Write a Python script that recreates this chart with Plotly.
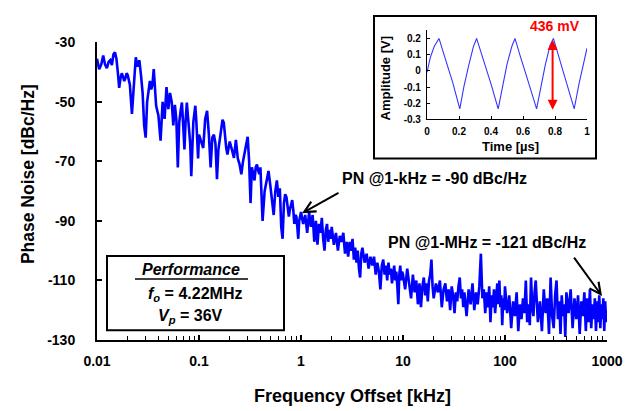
import plotly.graph_objects as go

# ---------------- data ----------------
# frequency grid inside each decade (mantissas) and decade starts [kHz]
MANTISSA = [1.0, 1.05, 1.1, 1.15, 1.2, 1.25, 1.3, 1.35, 1.4, 1.45,
            1.5, 1.55, 1.6, 1.65, 1.7, 1.75, 1.8, 1.85, 1.9, 1.95,
            2.0, 2.1, 2.2, 2.3, 2.4, 2.5, 2.6, 2.7, 2.8, 2.9,
            3.0, 3.1, 3.2, 3.3, 3.4, 3.5, 3.6, 3.7, 3.8, 3.9,
            4.0, 4.2, 4.4, 4.6, 4.8, 5.0, 5.2, 5.4, 5.6, 5.8,
            6.0, 6.2, 6.4, 6.6, 6.8, 7.0, 7.2, 7.4, 7.6, 7.8,
            8.0, 8.2, 8.4, 8.6, 8.8, 9.0, 9.2, 9.4, 9.6, 9.8]
DECADE_STARTS_KHZ = [0.01, 0.1, 1, 10, 100]

PN_DECADE_1 = [-35.5, -39, -37.5, -34.4, -37.5, -38.7, -36.6, -36, -37.6, -34,
               -33.3, -35.5, -40, -45.3, -42, -40.4, -41.5, -43, -42, -40.4,
               -41, -44.2, -54, -42, -35, -38.2, -36, -41, -47, -58,
               -62, -50, -46, -43, -45.8, -44, -39, -45, -51.3, -53,
               -54.6, -63, -50, -55.7, -45, -52.4, -47, -50, -57.9, -51,
               -56, -72, -57, -53, -50.2, -58, -66, -56, -50.2, -55,
               -59, -64, -75, -62, -56.8, -54, -51.3, -56, -64, -69]
PN_DECADE_2 = [-61, -63, -65.5, -55.7, -53, -61, -72, -62, -61, -64,
               -76, -66, -62, -59, -56, -57, -63, -65.5, -67.7, -66,
               -63.3, -66, -68.8, -62.8, -69, -71, -74.3, -70, -66.6, -64,
               -61.7, -70, -84, -72, -74, -76.4, -72, -71, -73, -74.3,
               -72, -90, -80, -76, -73.2, -78, -83, -88, -80, -76.4,
               -81.9, -79, -92, -96, -84, -81, -82, -86, -88.5, -86,
               -84.7, -83, -86.3, -91, -88, -88.5, -92, -96, -90, -87.4]
PN_DECADE_3 = [-87, -91, -88, -94, -87, -92, -88, -97, -90, -98,
               -91, -94, -89, -96, -100, -93, -91, -97, -93, -96,
               -92, -98, -94, -100, -95, -97, -94, -101, -97, -102,
               -97, -100, -96, -103, -99, -104, -100, -106, -109, -101,
               -99, -104, -101, -106, -102, -105, -102, -108, -104, -107,
               -113, -105, -103, -108, -105, -110, -104, -108, -106, -111,
               -107, -105, -110, -107, -112, -118, -108, -105, -110, -107]
PN_DECADE_4 = [-108, -113, -106, -111, -116, -108, -114, -110, -118, -111,
               -119, -112, -109, -115, -111, -117, -110, -108, -103, -112,
               -116, -111, -114, -110, -119, -113, -111, -117, -113, -120,
               -112, -115, -121, -114, -117, -112, -109, -116, -113, -119,
               -114, -122, -113, -118, -111, -120, -114, -118, -112, -101,
               -116, -113, -121, -114, -119, -112, -124, -115, -119, -113,
               -121, -116, -111, -118, -110, -119, -115, -125, -116, -120]
PN_DECADE_5 = [-112, -121, -115, -126, -117, -122, -114, -127, -118, -123,
               -116, -121, -110, -124, -118, -125, -109, -119, -122, -114,
               -110, -124, -117, -127, -113, -121, -116, -128, -109, -122,
               -126, -115, -110, -123, -117, -128, -115, -122, -118, -129,
               -114, -121, -113, -126, -116, -123, -115, -128, -117, -122,
               -114, -127, -116, -124, -113, -126, -118, -123, -116, -127,
               -117, -124, -115, -126, -118, -123, -116, -127, -117, -124]
END_FREQ_KHZ = 1000
END_PN = -120

X_TICKS = [0.01, 0.1, 1, 10, 100, 1000]
X_TICK_TEXT = ["0.01", "0.1", "1", "10", "100", "1000"]
X_MINOR = [d * m for d in DECADE_STARTS_KHZ for m in [2, 3, 4, 5, 6, 7, 8, 9]]
Y_TICKS = [-130, -110, -90, -70, -50, -30]
Y_TICK_TEXT = ["-130", "-110", "-90", "-70", "-50", "-30"]

# inset waveform
T_US = [0, 0.02, 0.045, 0.075, 0.1, 0.13, 0.16, 0.205, 0.23, 0.26, 0.29, 0.31, 0.34, 0.37,
        0.40, 0.445, 0.47, 0.5, 0.53, 0.55, 0.58, 0.61, 0.64, 0.685, 0.71, 0.74, 0.77, 0.79,
        0.82, 0.85, 0.88, 0.92, 0.95, 0.98, 1.0]
AMP_V = [-0.01, 0.08, 0.15, 0.2, 0.12, 0.03, -0.07, -0.235, -0.1, 0.03, 0.15, 0.2, 0.11, 0.02,
         -0.08, -0.235, -0.11, 0.04, 0.15, 0.2, 0.1, 0.01, -0.09, -0.235, -0.1, 0.04, 0.16, 0.2,
         0.1, 0.0, -0.1, -0.235, -0.08, 0.06, 0.14]
INSET_X_TICKS = [0, 0.2, 0.4, 0.6, 0.8, 1]
INSET_X_TEXT = ["0", "0.2", "0.4", "0.6", "0.8", "1"]
INSET_Y_TICKS = [-0.3, -0.2, -0.1, 0, 0.1, 0.2]
INSET_Y_TEXT = ["-0.3", "-0.2", "-0.1", "0", "0.1", "0.2"]
VPP_TOP, VPP_BOTTOM, VPP_TIME = 0.2, -0.24, 0.785

# ---------------- build series ----------------
freq = []
pn = []
for start, vals in zip(DECADE_STARTS_KHZ,
                       [PN_DECADE_1, PN_DECADE_2, PN_DECADE_3, PN_DECADE_4, PN_DECADE_5]):
    for m, v in zip(MANTISSA, vals):
        freq.append(start * m)
        pn.append(v)
freq.append(END_FREQ_KHZ)
pn.append(END_PN)

# ---------------- layout helpers (screen pixel -> paper) ----------------
OFF = 8                      # page body margin
W, H = 634 - OFF, 411 - OFF
ML, MR, MT, MB = 97 - OFF, 27, 0, 71
PW = W - ML - MR
PH = H - MT - MB


def px(x):
    return (x - OFF - ML) / PW


def py(y):
    return (H - MB - (y - OFF)) / PH


FONT = "Liberation Sans, Arial, sans-serif"
BOLD = dict(family=FONT, color="black", weight="bold")

fig = go.Figure()
fig.add_trace(go.Scatter(x=freq, y=pn, mode="lines",
                         line=dict(color="#0000ff", width=2.6),
                         xaxis="x", yaxis="y", showlegend=False, hoverinfo="skip"))
fig.add_trace(go.Scatter(x=T_US, y=AMP_V, mode="lines",
                         line=dict(color="#3535ff", width=1.1),
                         xaxis="x2", yaxis="y2", showlegend=False, hoverinfo="skip"))

axis_common = dict(showline=True, linecolor="black", showgrid=False, zeroline=False,
                   ticks="inside", tickcolor="black")

fig.update_layout(
    width=W, height=H, autosize=False,
    margin=dict(l=ML, r=MR, t=MT, b=MB),
    paper_bgcolor="white", plot_bgcolor="rgba(0,0,0,0)",
    showlegend=False,
    xaxis=dict(**axis_common, type="log", range=[-2, 3], domain=[0, 1], anchor="y",
               linewidth=2, ticklen=5, tickwidth=1.5,
               tickmode="array", tickvals=X_TICKS, ticktext=X_TICK_TEXT,
               tickfont=dict(**BOLD, size=14), ticklabelstandoff=7,
               minor=dict(ticks="inside", ticklen=4, tickwidth=1, tickcolor="black",
                          tickmode="array", tickvals=X_MINOR, showgrid=False)),
    yaxis=dict(**axis_common, range=[-130, -30], domain=[0, py(35)], anchor="x",
               linewidth=2, ticklen=5, tickwidth=1.5,
               tickmode="array", tickvals=Y_TICKS, ticktext=Y_TICK_TEXT,
               tickfont=dict(**BOLD, size=14), ticklabelstandoff=17),
    xaxis2=dict(**axis_common, range=[0, 1], domain=[px(427), px(587)], anchor="y2",
                linewidth=1.2, ticklen=3, tickwidth=1,
                tickmode="array", tickvals=INSET_X_TICKS, ticktext=INSET_X_TEXT,
                tickfont=dict(**BOLD, size=10), ticklabelstandoff=2),
    yaxis2=dict(**axis_common, range=[-0.3, 0.25], domain=[py(114), py(22.7)], anchor="x2",
                linewidth=1.2, ticklen=3, tickwidth=1,
                tickmode="array", tickvals=INSET_Y_TICKS, ticktext=INSET_Y_TEXT,
                tickfont=dict(**BOLD, size=10), ticklabelstandoff=3),
)

shapes = [
    # inset frame
    dict(type="rect", xref="paper", yref="paper", x0=px(374), x1=px(596), y0=py(154), y1=py(8),
         line=dict(color="black", width=2), fillcolor="white", layer="below"),
    # performance box
    dict(type="rect", xref="paper", yref="paper", x0=px(107), x1=px(284), y0=py(330), y1=py(254),
         line=dict(color="black", width=2), fillcolor="white", layer="below"),
    # underline of "Performance"
    dict(type="line", xref="paper", yref="paper", x0=px(135), x1=px(248), y0=py(277.5), y1=py(277.5),
         line=dict(color="black", width=1.5)),
]
fig.update_layout(shapes=shapes)

ann = []


def text_ann(t, x, y, size, color="black", angle=0, italic=False):
    f = dict(family=FONT, size=size, color=color, weight="bold")
    if italic:
        f["style"] = "italic"
    ann.append(dict(text=t, xref="paper", yref="paper", x=px(x), y=py(y),
                    xanchor="center", yanchor="middle", showarrow=False,
                    textangle=angle, font=f))


text_ann("Phase Noise [dBc/Hz]", 28, 170, 17.5, angle=-90)
text_ann("Frequency Offset [kHz]", 352, 397, 18)
text_ann("Performance", 191, 268, 16, italic=True)
text_ann("<i>f<sub>o</sub></i> = 4.22MHz", 195, 293, 16)
text_ann("<i>V<sub>p</sub></i> = 36V", 190, 316, 16)
text_ann("PN @1-kHz = -90 dBc/Hz", 434, 175, 16)
text_ann("PN @1-MHz = -121 dBc/Hz", 487, 240, 16)
text_ann("Amplitude [V]", 385, 72, 13, angle=-90)
text_ann("Time [µs]", 510, 142, 13)
text_ann("436 mV", 555, 18, 14, color="#ff0000")

# black pointer arrows
ann.append(dict(text="", xref="paper", yref="paper", x=px(302), y=py(210),
                ax=38, ay=-21, showarrow=True, arrowhead=5, arrowsize=1.1,
                arrowwidth=2, arrowcolor="black"))
ann.append(dict(text="", xref="paper", yref="paper", x=px(602), y=py(295),
                ax=-29, ay=-40, showarrow=True, arrowhead=5, arrowsize=1.1,
                arrowwidth=2, arrowcolor="black"))
# red peak-to-peak arrow in the inset
ann.append(dict(text="", xref="x2", yref="y2", x=VPP_TIME, y=VPP_BOTTOM,
                axref="x2", ayref="y2", ax=VPP_TIME, ay=VPP_TOP,
                showarrow=True, arrowhead=2, arrowside="end+start", arrowsize=1,
                arrowwidth=2, arrowcolor="#ff0000"))
fig.update_layout(annotations=ann)

fig.write_html("out.html")
